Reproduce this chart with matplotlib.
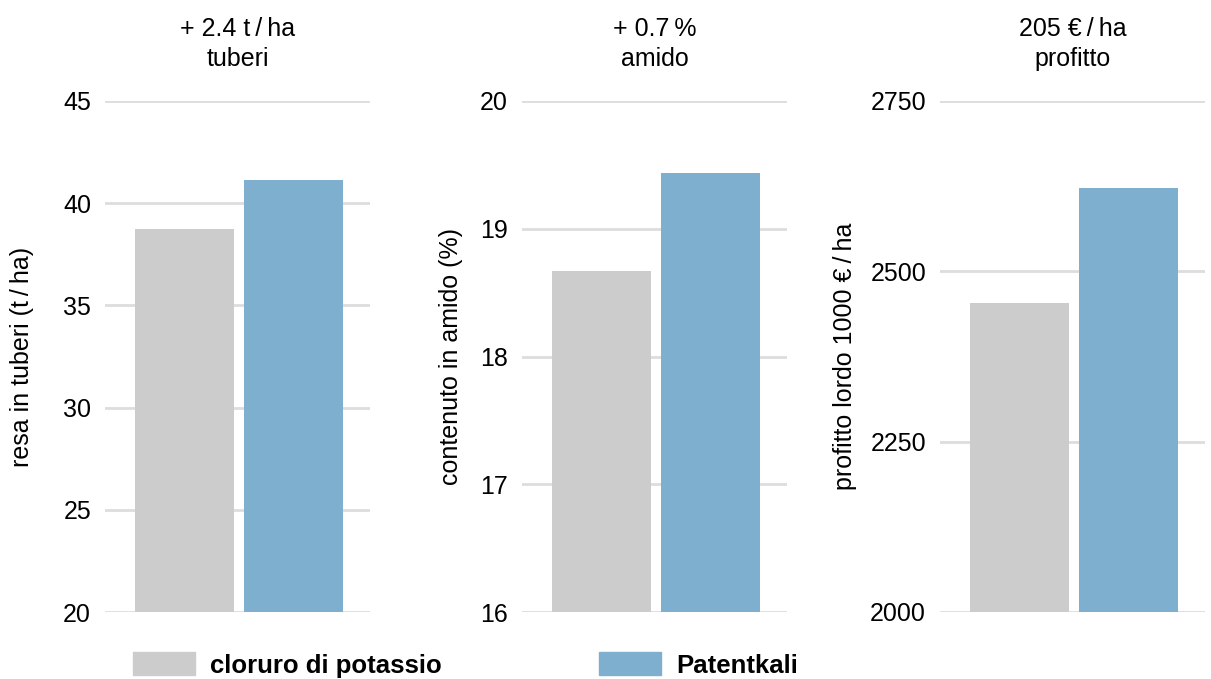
import matplotlib.pyplot as plt
from matplotlib.patches import Patch

plt.rcParams['font.family'] = ['Liberation Sans', 'DejaVu Sans']

serie = ["cloruro di potassio", "Patentkali"]
colori = ["#cccccc", "#7eafce"]

titoli = ["+ 2.4 t\u2009/\u2009ha\ntuberi", "+ 0.7\u2009%\namido", "205 €\u2009/\u2009ha\nprofitto"]
etichette_y = ["resa in tuberi (t\u2009/\u2009ha)", "contenuto in amido (%)", "profitto lordo 1000 €\u2009/\u2009ha"]
tuberi = [38.75, 41.15]
amido = [18.67, 19.44]
profitto = [2454, 2622]
limiti = [(20, 45), (16, 20), (2000, 2750)]
tacche = [[20, 25, 30, 35, 40, 45], [16, 17, 18, 19, 20], [2000, 2250, 2500, 2750]]

fig = plt.figure(figsize=(12.11, 6.79), dpi=100)

lefts = [105, 522, 940]
pos_label = [-0.268, -0.223, -0.313]
for i, valori in enumerate([tuberi, amido, profitto]):
    ax = fig.add_axes([lefts[i] / 1211, 1 - 612 / 679, 265 / 1211, 511 / 679])
    ax.bar([0, 1], [v - limiti[i][0] for v in valori], width=0.908,
           bottom=limiti[i][0], color=colori, zorder=3)
    ax.set_xlim(-0.729, 1.702)
    ax.set_ylim(limiti[i])
    ax.set_yticks(tacche[i])
    ax.set_xticks([])
    ax.grid(axis='y', color='#dddddd', linewidth=2, zorder=0)
    ax.tick_params(axis='y', length=0, pad=10, labelsize=18)
    for s in ax.spines.values():
        s.set_visible(False)
    ax.set_ylabel(etichette_y[i], fontsize=18)
    ax.yaxis.set_label_coords(pos_label[i], 0.5)
    ax.set_title(titoli[i], fontsize=18, pad=25, linespacing=1.35)

handles = [Patch(color=c, label=s) for c, s in zip(colori, serie)]
for h, x in zip(handles, [133, 599]):
    fig.legend(handles=[h], loc='center left', bbox_to_anchor=(x / 1211, 1 - 665 / 679),
               frameon=False, borderpad=0, borderaxespad=0, handlelength=2.4,
               handleheight=1.0, handletextpad=0.6,
               prop={'weight': 'bold', 'size': 18.5})

fig.savefig("out.png", dpi=100)
